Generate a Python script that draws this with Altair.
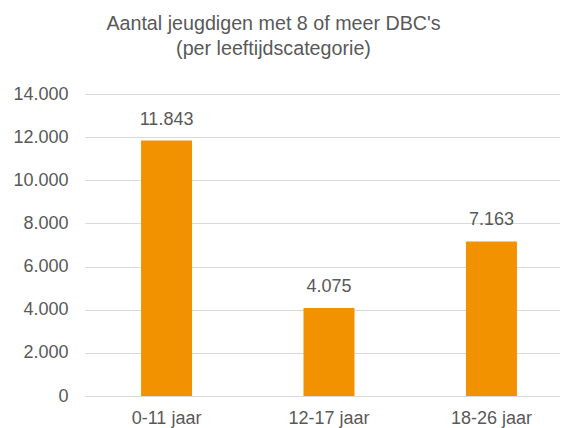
import altair as alt
import pandas as pd

categories = ["0-11 jaar", "12-17 jaar", "18-26 jaar"]
values = [11843, 4075, 7163]
y_ticks = [0, 2000, 4000, 6000, 8000, 10000, 12000, 14000]

df = pd.DataFrame({"cat": categories, "val": values})

FONT = "Liberation Sans"
GRAY = "#595959"
ORANGE = "#F39200"

base = alt.Chart(df).encode(
    x=alt.X("cat:N", sort=categories, title=None,
            scale=alt.Scale(range=[0, 488], paddingInner=0.686, paddingOuter=0.345),
            axis=alt.Axis(labelAngle=0, labelFont=FONT, labelFontSize=18,
                          labelColor=GRAY, labelPadding=13, ticks=False,
                          domainColor="#D9D9D9", domainWidth=1)),
    y=alt.Y("val:Q", title=None,
            scale=alt.Scale(domain=[0, 14000], nice=False),
            axis=alt.Axis(values=y_ticks, labelFont=FONT, labelFontSize=18,
                          labelColor=GRAY, labelPadding=17, ticks=False,
                          domain=False, gridColor="#D9D9D9", gridWidth=1,
                          labelExpr="replace(format(datum.value, ',d'), ',', '.')")),
)

bars = base.mark_bar(color=ORANGE)
labels = base.transform_calculate(
    lbl="replace(format(datum.val, ',d'), ',', '.')"
).mark_text(baseline="alphabetic", dy=-16, font=FONT, fontSize=18, color=GRAY).encode(
    text="lbl:N"
)

chart = (bars + labels).properties(
    width=475,
    height=302,
    title=alt.TitleParams(
        ["Aantal jeugdigen met 8 of meer DBC's", "(per leeftijdscategorie)"],
        font=FONT, fontSize=19.7, fontWeight="normal", color=GRAY,
        lineHeight=25, offset=26, frame="group", anchor="middle", dx=-49,
    ),
    autosize=alt.AutoSizeParams(type="none"),
    padding={"left": 77, "top": 86, "right": 0, "bottom": 32},
).configure_view(stroke=None)

chart.save("out.html", embed_options={"renderer": "svg", "actions": False})
